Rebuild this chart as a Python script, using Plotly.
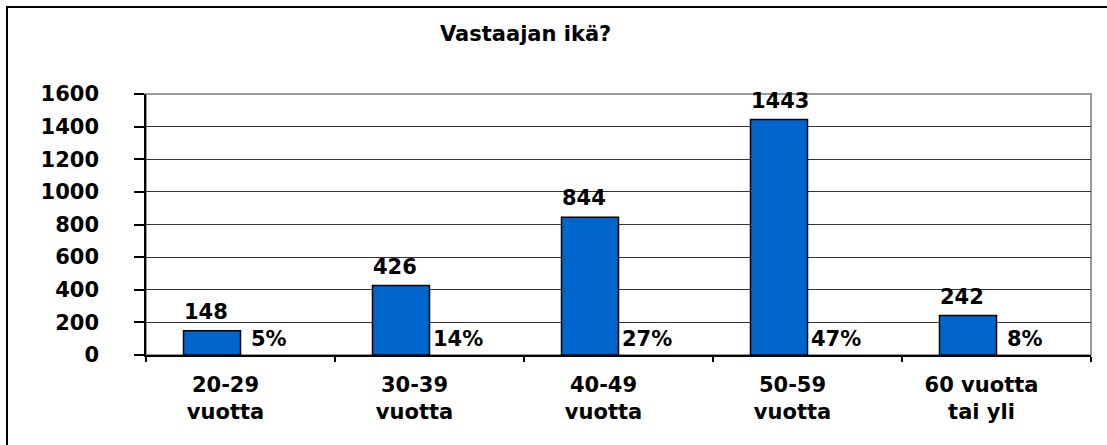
import plotly.graph_objects as go

categories = ["20-29<br>vuotta", "30-39<br>vuotta", "40-49<br>vuotta", "50-59<br>vuotta", "60 vuotta<br>tai yli"]
counts = [148, 426, 844, 1443, 242]
percents = ["5%", "14%", "27%", "47%", "8%"]
y_ticks = [0, 200, 400, 600, 800, 1000, 1200, 1400, 1600]
title_text = "Vastaajan ikä?"

W, H = 1107, 445
ML, MR, MT, MB = 146, 16, 94, 90
PW = W - ML - MR
PH = H - MT - MB
CAT_PX = PW / len(categories)
BAR_PX = 57
BW = BAR_PX / CAT_PX

FONT = dict(family="DejaVu Sans", size=21, color="black", weight="bold")

fig = go.Figure()
fig.add_trace(go.Bar(
    x=categories, y=counts,
    width=BW, offset=-BW,
    marker=dict(color="#0066CC", line=dict(color="black", width=1.5)),
    hoverinfo="skip",
))

annotations = []
for c, v, p in zip(categories, counts, percents):
    annotations.append(dict(x=c, y=v, xref="x", yref="y", text=str(v), showarrow=False,
                            xanchor="left", yanchor="bottom", xshift=-BAR_PX - 2, yshift=5,
                            font=FONT))
    annotations.append(dict(x=c, y=0, xref="x", yref="y", text=p, showarrow=False,
                            xanchor="center", yanchor="bottom", xshift=BAR_PX / 2, yshift=2,
                            font=FONT))
annotations.append(dict(x=(525 - ML) / PW, y=1 + (MT - 34) / PH, xref="paper", yref="paper",
                        text=title_text, showarrow=False, xanchor="center", yanchor="middle",
                        font=FONT))

shapes = [
    dict(type="rect", xref="x domain", yref="y domain", x0=0, x1=1, y0=0, y1=1,
         line=dict(color="#999999", width=2), layer="below"),
    dict(type="rect", xref="paper", yref="paper",
         x0=(7 - ML) / PW, x1=1 + (MR + 10) / PW,
         y0=-(MB + 10) / PH, y1=1 + (MT - 7) / PH,
         line=dict(color="black", width=2)),
]

fig.update_layout(
    width=W, height=H,
    margin=dict(l=ML, r=MR, t=MT, b=MB, pad=0),
    paper_bgcolor="white", plot_bgcolor="white",
    showlegend=False,
    annotations=annotations,
    shapes=shapes,
    font=FONT,
    xaxis=dict(
        type="category",
        showline=True, linecolor="black", linewidth=1.5,
        ticks="outside", ticklen=5, tickcolor="black", tickwidth=1.5,
        tickson="boundaries",
        showgrid=False,
        tickfont=FONT,
        ticklabelstandoff=10,
        ticklabelshift=-15,
    ),
    yaxis=dict(
        range=[0, 1600], tickvals=y_ticks,
        showline=True, linecolor="black", linewidth=1.5,
        ticks="outside", ticklen=10, tickcolor="black", tickwidth=1.5,
        showgrid=True, gridcolor="#333333", gridwidth=1,
        zeroline=False,
        tickfont=FONT,
        ticklabelstandoff=31,
    ),
)

fig.write_html("out.html", config={"displayModeBar": False},
               post_script="document.body.style.margin='0';document.body.style.padding='0';")
